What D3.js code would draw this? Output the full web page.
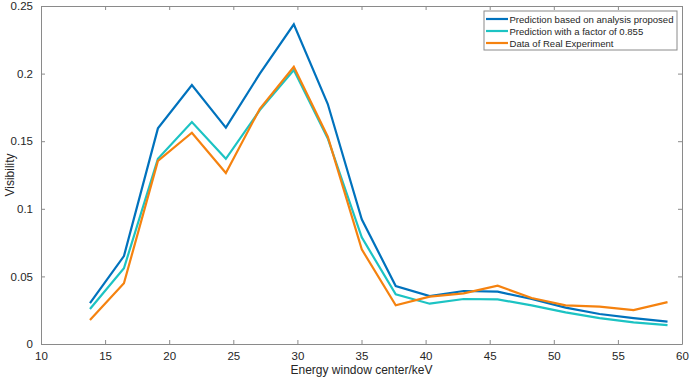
<!DOCTYPE html>
<html><head><meta charset="utf-8">
<script src="https://cdn.jsdelivr.net/npm/d3@7"></script>
<style>body{margin:0;background:#fff}svg{display:block;font-family:"Liberation Sans",Arial,sans-serif}</style>
</head><body><svg id="c" width="692" height="380"></svg>
<script>
const energy = [13.82,16.47,19.12,21.77,24.42,27.07,29.72,32.37,35.02,37.67,40.32,42.97,45.62,48.27,50.92,53.57,56.22,58.87];
const predicted = [0.0303,0.065,0.1595,0.1915,0.160,0.200,0.2365,0.1775,0.0922,0.0429,0.0355,0.0392,0.0387,0.0333,0.0269,0.0222,0.0192,0.0165];
const scaled = [0.0259,0.056,0.137,0.1642,0.137,0.173,0.2027,0.152,0.0789,0.0367,0.0298,0.0333,0.033,0.0286,0.0234,0.0192,0.016,0.014];
const experiment = [0.0178,0.0449,0.1354,0.1563,0.1265,0.174,0.205,0.1533,0.070,0.0286,0.035,0.0375,0.0431,0.034,0.0286,0.0276,0.0251,0.031];
const seriesNames = ["Prediction based on analysis proposed","Prediction with a factor of 0.855","Data of Real Experiment"];
const colors = ["#0072BD","#1CC3C3","#F5820F"];
const xTicks = [10,15,20,25,30,35,40,45,50,55,60];
const yTicks = [0,0.05,0.1,0.15,0.2,0.25];

const svg = d3.select("#c");
const L=41,R=682,T=6,B=344;
const x = d3.scaleLinear().domain([10,60]).range([L,R]);
const y = d3.scaleLinear().domain([0,0.25]).range([B,T]);
const axCol="#8a8a8a", txtCol="#262626";

function style(g){g.select(".domain").attr("stroke",axCol);g.selectAll(".tick line").attr("stroke",axCol);g.selectAll("text").attr("fill",txtCol).attr("font-size","11.5px");}
svg.append("g").attr("transform",`translate(0,${B})`).call(d3.axisBottom(x).tickValues(xTicks).tickSizeInner(-4).tickSizeOuter(0).tickPadding(8).tickFormat(d3.format("d"))).call(style);
svg.append("g").attr("transform",`translate(0,${T})`).call(d3.axisTop(x).tickValues(xTicks).tickSizeInner(-4).tickSizeOuter(0).tickFormat("")).call(style);
svg.append("g").attr("transform",`translate(${L},0)`).call(d3.axisLeft(y).tickValues(yTicks).tickSizeInner(-4).tickSizeOuter(0).tickPadding(8).tickFormat(d=>d===0?"0":String(+d.toFixed(2)))).call(style);
svg.append("g").attr("transform",`translate(${R},0)`).call(d3.axisRight(y).tickValues(yTicks).tickSizeInner(-4).tickSizeOuter(0).tickFormat("")).call(style);

const data=[predicted,scaled,experiment];
const line=d3.line().x((d,i)=>x(energy[i])).y(d=>y(d));
data.forEach((s,k)=>{
  svg.append("path").datum(s).attr("d",line).attr("fill","none").attr("stroke",colors[k]).attr("stroke-width",2.2).attr("stroke-linejoin","miter");
});

svg.append("text").attr("x",(L+R)/2).attr("y",374).attr("text-anchor","middle").attr("font-size","12px").attr("fill",txtCol).text("Energy window center/keV");
svg.append("text").attr("transform",`translate(14,${(T+B)/2}) rotate(-90)`).attr("text-anchor","middle").attr("font-size","12px").attr("fill",txtCol).text("Visibility");

const lg=svg.append("g");
lg.append("rect").attr("x",484).attr("y",11).attr("width",193).attr("height",39).attr("fill","#fff").attr("stroke",axCol).attr("stroke-width",1);
const texts=[];
seriesNames.forEach((n,k)=>{
  const yy=19+k*12;
  lg.append("line").attr("x1",486).attr("x2",508).attr("y1",yy).attr("y2",yy).attr("stroke",colors[k]).attr("stroke-width",2.2);
  texts.push(lg.append("text").attr("x",509.5).attr("y",yy+4).attr("font-size","11px").attr("fill",txtCol).text(n));
});
const w0=texts[0].node().getComputedTextLength();
const fs=Math.min(11,11*164/w0);
texts.forEach(t=>t.attr("font-size",fs.toFixed(2)+"px"));
</script></body></html>
